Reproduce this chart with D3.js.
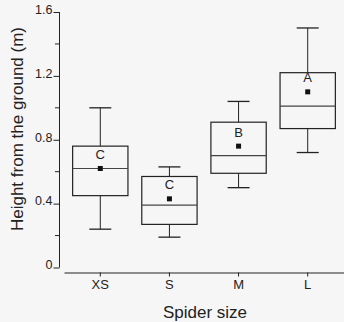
<!DOCTYPE html>
<html><head><meta charset="utf-8">
<script src="https://cdn.jsdelivr.net/npm/d3@7"></script>
<style>body{margin:0;background:#f6f6f6}svg{display:block}text{font-family:"Liberation Sans",Arial,sans-serif;fill:#222}</style>
</head><body><svg id="c" width="344" height="322"></svg>
<script>
const categories = ["XS","S","M","L"];
const whiskerLow = [0.24,0.19,0.50,0.72];
const q1 = [0.45,0.27,0.59,0.87];
const median = [0.62,0.39,0.70,1.01];
const q3 = [0.76,0.57,0.91,1.22];
const whiskerHigh = [1.00,0.63,1.04,1.50];
const means = [0.62,0.43,0.76,1.10];
const letters = ["C","C","B","A"];
const majorTicks = [0,0.4,0.8,1.2,1.6];
const minorTicks = [0.2,0.6,1.0,1.4];

const svg = d3.select("#c");
const y = d3.scaleLinear().domain([0,1.6]).range([267.5,12]);
const x = d3.scaleBand().domain(categories).range([64,344]).paddingInner(0.2).paddingOuter(0.125);
const col = "#222";

// Y axis
const yAxis = svg.append("g").attr("transform","translate(59.5,0)")
  .call(d3.axisLeft(y).tickValues(majorTicks).tickSize(6).tickPadding(1).tickFormat(d=>d===0?"0":d3.format(".1f")(d)));
yAxis.select(".domain").attr("d","M0,"+y(1.6)+"V"+y(0)).attr("stroke",col);
yAxis.selectAll("line").attr("stroke",col);
yAxis.selectAll("text").attr("font-size",12.5).attr("fill","#222").attr("dy","0.1em");
svg.append("g").selectAll("line").data(minorTicks).join("line")
  .attr("x1",55).attr("x2",59.5).attr("y1",d=>y(d)).attr("y2",d=>y(d)).attr("stroke",col);

// X axis
const xAxis = svg.append("g").attr("transform","translate(0,272.5)")
  .call(d3.axisBottom(x).tickSize(4).tickPadding(3).tickSizeOuter(0));
xAxis.select(".domain").attr("stroke",col);
xAxis.selectAll("line").attr("stroke",col);
xAxis.selectAll("text").attr("font-size",13).attr("fill","#222");

// titles
svg.append("text").attr("x",205).attr("y",318).attr("text-anchor","middle").attr("font-size",17).text("Spider size");
svg.append("text").attr("transform","translate(23,129) rotate(-90)").attr("text-anchor","middle").attr("font-size",17).text("Height from the ground (m)");

// boxes
const g = svg.append("g");
const bw = x.bandwidth();
categories.forEach((c,i)=>{
  const x0 = x(c), cx = x0 + bw/2;
  g.append("line").attr("x1",cx).attr("x2",cx).attr("y1",y(whiskerHigh[i])).attr("y2",y(q3[i])).attr("stroke",col);
  g.append("line").attr("x1",cx).attr("x2",cx).attr("y1",y(q1[i])).attr("y2",y(whiskerLow[i])).attr("stroke",col);
  g.append("line").attr("x1",cx-11).attr("x2",cx+11).attr("y1",y(whiskerHigh[i])).attr("y2",y(whiskerHigh[i])).attr("stroke",col).attr("stroke-width",1.3);
  g.append("line").attr("x1",cx-11).attr("x2",cx+11).attr("y1",y(whiskerLow[i])).attr("y2",y(whiskerLow[i])).attr("stroke",col).attr("stroke-width",1.3);
  g.append("rect").attr("x",x0).attr("width",bw).attr("y",y(q3[i])).attr("height",y(q1[i])-y(q3[i]))
    .attr("fill","none").attr("stroke",col).attr("stroke-width",1.2);
  g.append("line").attr("x1",x0).attr("x2",x0+bw).attr("y1",y(median[i])).attr("y2",y(median[i])).attr("stroke","#444").attr("stroke-width",1.2);
  g.append("rect").attr("x",cx-2.5).attr("y",y(means[i])-2.5).attr("width",5).attr("height",5).attr("fill","#111");
  g.append("text").attr("x",cx).attr("y",y(means[i])-9.5).attr("text-anchor","middle").attr("font-size",13).text(letters[i]);
});
</script></body></html>
